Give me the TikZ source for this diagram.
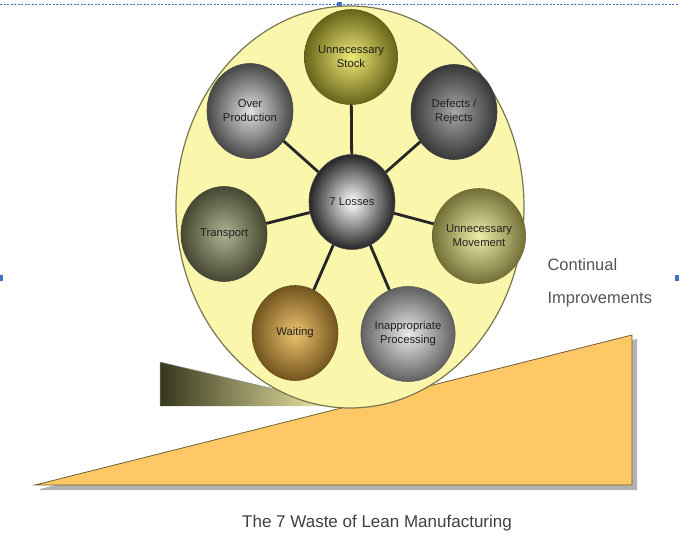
\documentclass[tikz,border=0pt]{standalone}
\usepackage{fontspec}
\setmainfont{Liberation Sans}
\usetikzlibrary{shapes.geometric,shadings}
\definecolor{bgyellow}{RGB}{250,246,172}
\definecolor{rimcol}{RGB}{120,118,80}
\definecolor{rampcol}{RGB}{255,200,102}
\definecolor{rampedge}{RGB}{110,95,50}
\definecolor{wedgedark}{RGB}{55,55,30}
\definecolor{wedgelight}{RGB}{250,246,175}
\definecolor{textgray}{RGB}{85,85,85}
\definecolor{markblue}{RGB}{68,114,196}
\begin{document}
\begin{tikzpicture}[x=1pt,y=-1pt,
  ball/.style={ellipse, minimum width=86pt, minimum height=95pt, inner sep=0pt,
    align=center, font=\fontsize{11.3}{14}\selectfont, text=black!88, line width=0.6pt},
  spoke/.style={line width=2.8pt, black!85},
  bigtext/.style={font=\fontsize{16.5}{18}\selectfont, text=textgray},
]
\useasboundingbox (0,0) rectangle (679,546);
\fill[white] (0,0) rectangle (679,546);
% selection marks
\draw[markblue, line width=0.7pt, dash pattern=on 2pt off 1.5pt] (0,4) -- (679,4);
\fill[markblue] (337,2) rectangle (342,8);
\fill[markblue] (0,275) rectangle (3,281);
\fill[markblue] (675,275) rectangle (679,281);
% wedge
\shade[left color=wedgedark, right color=wedgelight] (160,362) -- (338,404) -- (338,406) -- (160,406) -- cycle;
\draw[black!45, line width=0.5pt] (160,362) -- (338,404) (160,406) -- (160,362);
% ramp with shadow
\fill[black!30] (40,489) -- (637,339) -- (637,490) -- (40,490) -- cycle;
\draw[fill=rampcol, draw=rampedge, line width=0.8pt] (35,485) -- (632,335) -- (632,485) -- cycle;
% big wheel
\draw[fill=bgyellow, draw=rimcol, line width=1.2pt] (350,207) ellipse [x radius=174pt, y radius=201pt];
% balls
\node[ball, inner color=white, outer color=black!85, draw=black!70] (loss) at (352,202) {7 Losses};
\node[ball, inner color={rgb,255:red,238;green,234;blue,120}, outer color={rgb,255:red,105;green,100;blue,25}, draw={rgb,255:red,95;green,90;blue,25}] (stock) at (351,57) {Unnecessary\\Stock};
\node[ball, inner color=black!12, outer color=black!72, draw=black!70] (over) at (250,111) {Over\\Production};
\node[ball, inner color=black!35, outer color=black!78, draw=black!75] (defect) at (454,112) {Defects /\\Rejects};
\node[ball, inner color={rgb,255:red,175;green,178;blue,145}, outer color={rgb,255:red,70;green,72;blue,50}, draw={rgb,255:red,70;green,72;blue,50}] (transport) at (224,234) {Transport};
\node[ball, inner color={rgb,255:red,240;green,238;blue,170}, outer color={rgb,255:red,115;green,112;blue,55}, draw={rgb,255:red,110;green,105;blue,50}] (move) at (479,236) {Unnecessary\\Movement};
\node[ball, inner color={rgb,255:red,238;green,195;blue,110}, outer color={rgb,255:red,115;green,85;blue,30}, draw={rgb,255:red,105;green,80;blue,30}] (wait) at (295,333) {Waiting};
\node[ball, inner color=black!8, outer color=black!62, draw=black!65] (proc) at (408,334) {Inappropriate\\Processing};
% spokes
\foreach \b in {stock,over,defect,transport,move,wait,proc}
  \draw[spoke] (loss) -- (\b);
% texts
\node[bigtext, anchor=base west] (cont) at (544,270) {Continual};
\node[bigtext, anchor=base west] (impr) at (544,303) {Improvements};
\node[font=\fontsize{17}{19}\selectfont, text=black!75, anchor=base] (title) at (377,527) {The 7 Waste of Lean Manufacturing};
\end{tikzpicture}
\end{document}
